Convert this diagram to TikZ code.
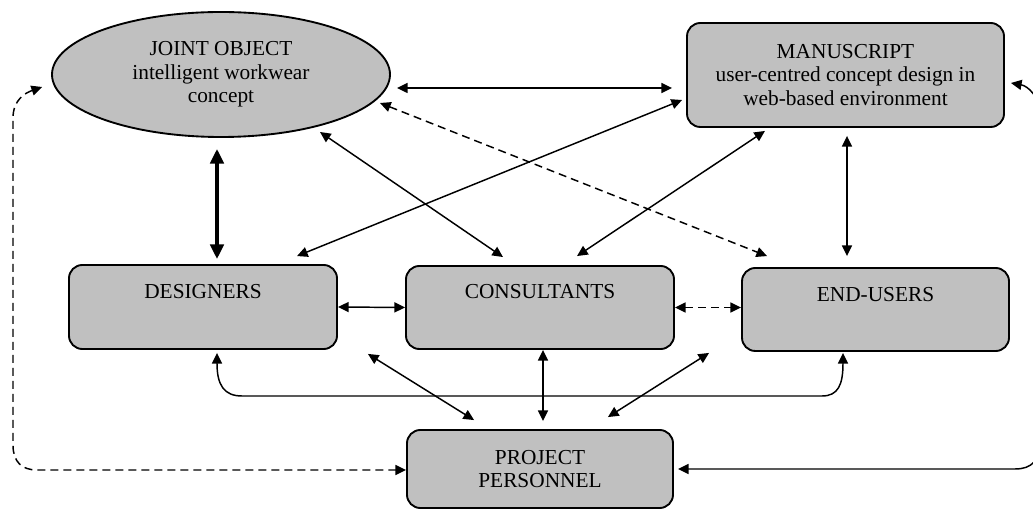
\documentclass[tikz,border=0pt]{standalone}
\usepackage{fontspec}
\setmainfont{Liberation Serif}
\usetikzlibrary{arrows.meta,shapes.geometric,calc}
\tikzset{
  box/.style={draw=black,line width=1.4pt,fill=boxgray,rounded corners=10pt,inner sep=0pt},
  oval/.style={ellipse,draw=black,line width=1.4pt,fill=boxgray,inner sep=0pt,align=center,font=\fontsize{16}{17.6}\selectfont},
  lbl/.style={inner sep=0pt,font=\fontsize{16}{17.6}\selectfont,align=center},
  conn/.style={line width=1.1pt,{Triangle[length=8pt,width=7.5pt]}-{Triangle[length=8pt,width=7.5pt]}},
  dconn/.style={conn,dash pattern=on 6pt off 3.75pt},
  thickconn/.style={line width=2.6pt,{Triangle[length=11pt,width=10pt]}-{Triangle[length=11pt,width=10pt]}}
}
\definecolor{boxgray}{RGB}{192,192,192}
\begin{document}
\begin{tikzpicture}[x=0.75pt,y=-0.75pt]
\useasboundingbox (0,0) rectangle (1033,509);
% nodes
\node[oval,minimum width=253.5pt,minimum height=93.75pt] (jo) at (221,74.5) {JOINT OBJECT\\intelligent workwear\\concept};
\node[box,minimum width=237.75pt,minimum height=78pt,align=center,font=\fontsize{16}{17.6}\selectfont] (ms) at (845.5,75) {MANUSCRIPT\\user-centred concept design in\\web-based environment};
\node[box,minimum width=201pt,minimum height=63pt] (des) at (203,307) {};
\node[lbl] (desl) at (203,292) {DESIGNERS};
\node[box,minimum width=201pt,minimum height=62.25pt] (co) at (540,307.5) {};
\node[lbl] (col) at (540,292) {CONSULTANTS};
\node[box,minimum width=200.25pt,minimum height=62.25pt] (eu) at (875.5,309.5) {};
\node[lbl] (eul) at (875.5,295) {END-USERS};
\node[box,minimum width=199.5pt,minimum height=58.5pt,align=center,font=\fontsize{16}{17.6}\selectfont] (pp) at (540,469) {PROJECT\\PERSONNEL};
% connectors
\draw[conn] ($(jo.center)+(176,13.5)$) -- ($(ms.west)+(-14,13)$);
\draw[dconn] ($(jo.center)+(159,28.5)$) -- ($(eu.north west)+(26,-11)$);
\draw[conn] ($(jo.center)+(99,57.5)$) -- ($(co.north)+(-37,-8)$);
\draw[conn] ($(ms.west)+(-4,25)$) -- ($(des.north)+(94,-8)$);
\draw[conn] ($(ms.south)+(-80.5,3)$) -- ($(co.north)+(37,-9)$);
\draw[conn] ($(ms.south)+(1.5,8)$) -- ($(eu.north)+(-28.5,-11)$);
\draw[thickconn] ($(jo.south)+(-4,11)$) -- ($(des.north)+(14,-5)$);
\draw[conn] (des.east) -- (co.west);
\draw[dconn] (co.east) -- (eu.west |- co.east);
\draw[conn] ($(des.south)+(14,3)$) .. controls (217,385) and (224,396) .. (242,396) -- (822,396) .. controls (838,396) and (843,385) .. ($(eu.south)+(-32.5,1)$);
\draw[conn] ($(des.south east)+(30,4)$) -- ($(pp.north west)+(68,-9)$);
\draw[conn] ($(co.south)+(3,0)$) -- ($(pp.north)+(3,-8)$);
\draw[conn] ($(eu.south west)+(-32,1)$) -- ($(pp.north east)+(-66,-12)$);
\draw[dconn] ($(jo.west)+(-9,12.5)$) .. controls (25,93) and (13,100) .. (13,118) -- (13,445) .. controls (13,462) and (22,470) .. (37,470) -- (pp.west |- 0,470);
\draw[conn] ($(ms.east)+(6,8)$) .. controls (1028,86) and (1040,97) .. (1040,115) -- (1040,442) .. controls (1040,460) and (1032,469) .. (1015,469) -- ($(pp.east)+(4,0)$);
\end{tikzpicture}
\end{document}
